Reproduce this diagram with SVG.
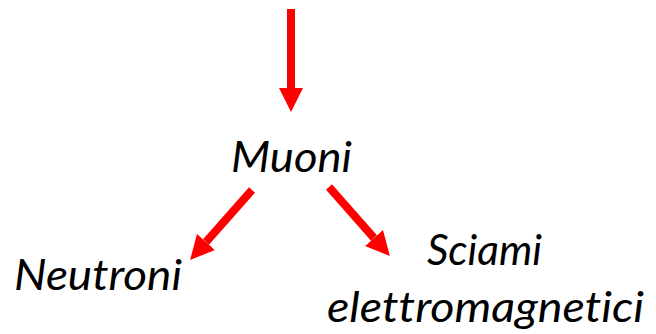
<svg xmlns="http://www.w3.org/2000/svg" width="656" height="334" viewBox="0 0 656 334">
  <style>
    .label { font-family: Lato, "Open Sans", "Liberation Sans", sans-serif; font-style: italic; font-size: 43px; fill: #000; font-variant-ligatures: none; font-feature-settings: "liga" 0; }
    .arrow { stroke: #ff0000; stroke-width: 8; fill: none; marker-end: url(#head); }
  </style>
  <defs>
    <marker id="head" markerUnits="userSpaceOnUse" markerWidth="24" markerHeight="26" viewBox="0 -12 23 24" refX="0" refY="0" orient="auto">
      <path d="M0,-11.5 L23,0 L0,11.5 z" fill="#ff0000"/>
    </marker>
  </defs>

  <g id="connectors">
    <line class="arrow" x1="291" y1="9" x2="291" y2="88"/>
    <line class="arrow" x1="252" y1="190" x2="206" y2="242"/>
    <line class="arrow" x1="329" y1="187" x2="374" y2="238"/>
  </g>

  <g id="muoni">
    <text class="label" x="231" y="172" textLength="121" lengthAdjust="spacingAndGlyphs">Muoni</text>
  </g>
  <g id="neutroni">
    <text class="label" x="14" y="290" textLength="168" lengthAdjust="spacingAndGlyphs">Neutroni</text>
  </g>
  <g id="sciami">
    <text class="label" x="427" y="265" textLength="115" lengthAdjust="spacingAndGlyphs">Sciami</text>
    <text class="label" x="327" y="322" textLength="317" lengthAdjust="spacingAndGlyphs">elettromagnetici</text>
  </g>
</svg>
